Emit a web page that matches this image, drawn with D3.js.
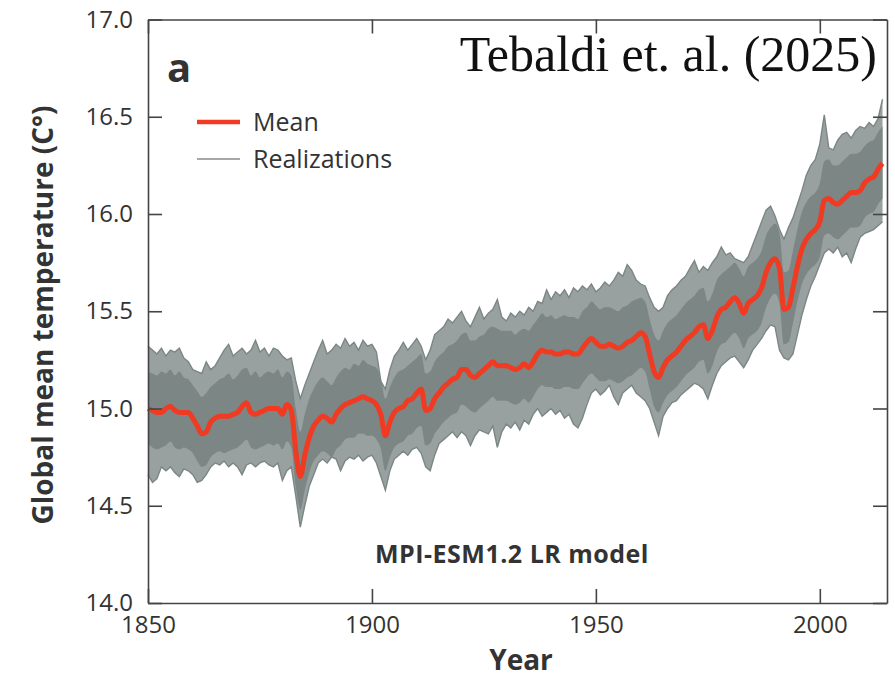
<!DOCTYPE html>
<html lang="en">
<head>
  <meta charset="UTF-8">
  <title>MPI-ESM1.2 LR global mean temperature</title>
  <script src="https://d3js.org/d3.v7.min.js"></script>
  <style>
    body { margin: 0; background: #fff; }
    svg text { font-family: "Open Sans", "Noto Sans", sans-serif; fill: #333; }
  </style>
</head>
<body>
<svg id="chart" width="895" height="679"></svg>

<script>
// years 1850..2014, one value per year
const firstYear = 1850;

// ensemble mean (red line)
const meanTemp = [
  15.00, 14.99, 14.98, 14.98, 15.00, 15.01, 14.99, 14.98, 14.98, 14.98,
  14.95, 14.91, 14.87, 14.88, 14.93, 14.95, 14.96, 14.96, 14.96, 14.97,
  14.98, 15.01, 15.03, 14.98, 14.97, 14.98, 14.99, 15.00, 15.00, 15.00,
  14.97, 15.02, 14.99, 14.78, 14.65, 14.76, 14.85, 14.91, 14.94, 14.96,
  14.95, 14.93, 14.97, 15.00, 15.02, 15.03, 15.04, 15.05, 15.06, 15.05,
  15.04, 15.02, 14.97, 14.86, 14.93, 14.98, 15.00, 15.01, 15.04, 15.05,
  15.08, 15.10, 14.99, 15.00, 15.05, 15.08, 15.11, 15.13, 15.15, 15.16,
  15.20, 15.20, 15.17, 15.16, 15.18, 15.20, 15.22, 15.24, 15.22, 15.22,
  15.22, 15.21, 15.20, 15.21, 15.23, 15.21, 15.24, 15.28, 15.30, 15.29,
  15.29, 15.28, 15.28, 15.29, 15.29, 15.28, 15.28, 15.31, 15.34, 15.36,
  15.34, 15.32, 15.32, 15.33, 15.32, 15.31, 15.32, 15.34, 15.35, 15.37,
  15.39, 15.37, 15.28, 15.19, 15.16, 15.21, 15.25, 15.27, 15.29, 15.32,
  15.35, 15.37, 15.39, 15.42, 15.43, 15.36, 15.40, 15.47, 15.51, 15.52,
  15.55, 15.57, 15.54, 15.49, 15.54, 15.56, 15.58, 15.62, 15.70, 15.75,
  15.77, 15.72, 15.51, 15.52, 15.62, 15.73, 15.82, 15.87, 15.90, 15.92,
  15.96, 16.07, 16.08, 16.06, 16.05, 16.07, 16.09, 16.11, 16.11, 16.12,
  16.16, 16.18, 16.19, 16.23, 16.26
];

// highest and lowest realization each year (outer edge of grey band)
const realMax = [
  15.32, 15.30, 15.28, 15.31, 15.27, 15.30, 15.29, 15.31, 15.26, 15.24,
  15.20, 15.19, 15.18, 15.24, 15.20, 15.22, 15.26, 15.30, 15.33, 15.27,
  15.29, 15.31, 15.28, 15.30, 15.35, 15.29, 15.31, 15.27, 15.31, 15.30,
  15.27, 15.25, 15.26, 15.14, 15.05, 15.12, 15.18, 15.24, 15.30, 15.35,
  15.28, 15.30, 15.33, 15.31, 15.36, 15.32, 15.34, 15.30, 15.35, 15.32,
  15.33, 15.29, 15.14, 15.10, 15.20, 15.27, 15.30, 15.34, 15.30, 15.33,
  15.36, 15.32, 15.25, 15.30, 15.38, 15.40, 15.42, 15.46, 15.44, 15.47,
  15.50, 15.45, 15.42, 15.47, 15.52, 15.46, 15.49, 15.51, 15.56, 15.47,
  15.45, 15.49, 15.47, 15.50, 15.48, 15.52, 15.50, 15.55, 15.54, 15.61,
  15.56, 15.60, 15.58, 15.61, 15.57, 15.62, 15.60, 15.63, 15.61, 15.64,
  15.60, 15.62, 15.65, 15.63, 15.66, 15.70, 15.68, 15.74, 15.71, 15.66,
  15.64, 15.63, 15.57, 15.52, 15.50, 15.52, 15.58, 15.61, 15.63, 15.66,
  15.68, 15.72, 15.76, 15.70, 15.73, 15.71, 15.75, 15.78, 15.83, 15.79,
  15.80, 15.77, 15.76, 15.75, 15.78, 15.84, 15.90, 15.96, 16.02, 16.04,
  15.99, 15.92, 15.87, 15.93, 15.98, 16.05, 16.12, 16.20, 16.25, 16.28,
  16.36, 16.51, 16.34, 16.33, 16.38, 16.41, 16.42, 16.39, 16.43, 16.45,
  16.44, 16.47, 16.45, 16.49, 16.59
];
const realMin = [
  14.66, 14.62, 14.64, 14.70, 14.68, 14.70, 14.67, 14.65, 14.69, 14.68,
  14.66, 14.62, 14.63, 14.66, 14.70, 14.72, 14.71, 14.73, 14.70, 14.72,
  14.70, 14.66, 14.71, 14.72, 14.70, 14.72, 14.73, 14.71, 14.70, 14.72,
  14.63, 14.68, 14.70, 14.55, 14.39, 14.50, 14.60, 14.66, 14.72, 14.74,
  14.72, 14.75, 14.74, 14.68, 14.73, 14.75, 14.74, 14.76, 14.73, 14.75,
  14.76, 14.72, 14.65, 14.58, 14.68, 14.74, 14.76, 14.78, 14.76, 14.79,
  14.80, 14.77, 14.70, 14.68, 14.76, 14.82, 14.84, 14.86, 14.88, 14.85,
  14.88, 14.86, 14.81, 14.86, 14.89, 14.88, 14.87, 14.91, 14.80, 14.88,
  14.92, 14.90, 14.93, 14.89, 14.94, 14.92, 14.97, 15.00, 14.96, 14.98,
  15.00, 14.97, 14.99, 14.95, 14.97, 14.92, 14.90, 14.95, 15.02, 15.08,
  15.10, 15.07, 15.09, 15.12, 15.06, 15.02, 15.08, 15.10, 15.12, 15.08,
  15.06, 15.04, 15.00, 14.93, 14.86, 14.96, 15.00, 15.03, 15.04, 15.07,
  15.09, 15.11, 15.13, 15.12, 15.10, 15.05, 15.12, 15.18, 15.22, 15.24,
  15.26, 15.27, 15.24, 15.21, 15.25, 15.30, 15.33, 15.36, 15.40, 15.43,
  15.42, 15.30, 15.26, 15.25, 15.28, 15.38, 15.48, 15.56, 15.63, 15.68,
  15.74, 15.80, 15.82, 15.80, 15.83, 15.78, 15.80, 15.75, 15.82, 15.88,
  15.90, 15.91, 15.92, 15.94, 15.96
];

// edges of the dense core where most realizations overlap
const coreHigh = [
  15.19, 15.18, 15.17, 15.19, 15.18, 15.20, 15.17, 15.19, 15.16, 15.15,
  15.12, 15.09, 15.06, 15.08, 15.11, 15.13, 15.15, 15.16, 15.18, 15.15,
  15.17, 15.20, 15.21, 15.17, 15.19, 15.16, 15.18, 15.19, 15.18, 15.20,
  15.16, 15.19, 15.17, 15.00, 14.88, 14.97, 15.05, 15.10, 15.14, 15.16,
  15.14, 15.12, 15.16, 15.19, 15.21, 15.20, 15.23, 15.22, 15.25, 15.23,
  15.22, 15.21, 15.15, 15.05, 15.11, 15.16, 15.19, 15.20, 15.22, 15.24,
  15.26, 15.28, 15.18, 15.19, 15.24, 15.27, 15.29, 15.32, 15.33, 15.35,
  15.38, 15.39, 15.35, 15.35, 15.37, 15.38, 15.41, 15.42, 15.41, 15.40,
  15.40, 15.40, 15.38, 15.40, 15.41, 15.40, 15.43, 15.46, 15.49, 15.47,
  15.48, 15.46, 15.47, 15.48, 15.47, 15.47, 15.46, 15.50, 15.52, 15.55,
  15.53, 15.51, 15.52, 15.52, 15.51, 15.50, 15.52, 15.53, 15.55, 15.56,
  15.57, 15.55, 15.46, 15.38, 15.35, 15.40, 15.44, 15.46, 15.48, 15.51,
  15.54, 15.56, 15.58, 15.61, 15.62, 15.55, 15.59, 15.66, 15.69, 15.71,
  15.73, 15.75, 15.72, 15.68, 15.73, 15.75, 15.77, 15.81, 15.89, 15.93,
  15.95, 15.90, 15.70, 15.71, 15.81, 15.92, 16.01, 16.06, 16.09, 16.11,
  16.16, 16.27, 16.28, 16.25, 16.25, 16.27, 16.29, 16.31, 16.31, 16.32,
  16.35, 16.37, 16.38, 16.42, 16.45
];
const coreLow = [
  14.82, 14.80, 14.79, 14.80, 14.81, 14.83, 14.80, 14.79, 14.80, 14.79,
  14.77, 14.73, 14.70, 14.71, 14.75, 14.77, 14.78, 14.77, 14.78, 14.79,
  14.80, 14.82, 14.84, 14.80, 14.79, 14.80, 14.81, 14.82, 14.81, 14.82,
  14.79, 14.83, 14.80, 14.60, 14.48, 14.58, 14.67, 14.73, 14.76, 14.78,
  14.77, 14.75, 14.79, 14.81, 14.84, 14.85, 14.85, 14.87, 14.87, 14.86,
  14.86, 14.84, 14.79, 14.68, 14.75, 14.80, 14.82, 14.83, 14.86, 14.87,
  14.90, 14.91, 14.81, 14.82, 14.87, 14.90, 14.93, 14.95, 14.97, 14.98,
  15.02, 15.01, 14.99, 14.98, 15.00, 15.02, 15.04, 15.06, 15.04, 15.04,
  15.04, 15.03, 15.02, 15.03, 15.05, 15.03, 15.06, 15.10, 15.12, 15.11,
  15.11, 15.10, 15.10, 15.11, 15.11, 15.10, 15.10, 15.13, 15.16, 15.18,
  15.16, 15.14, 15.14, 15.15, 15.14, 15.13, 15.14, 15.16, 15.17, 15.19,
  15.21, 15.19, 15.10, 15.01, 14.98, 15.03, 15.07, 15.09, 15.11, 15.14,
  15.17, 15.19, 15.21, 15.24, 15.25, 15.18, 15.22, 15.29, 15.33, 15.34,
  15.37, 15.39, 15.36, 15.31, 15.36, 15.38, 15.40, 15.44, 15.52, 15.57,
  15.59, 15.54, 15.33, 15.34, 15.44, 15.55, 15.64, 15.69, 15.72, 15.74,
  15.78, 15.89, 15.90, 15.88, 15.87, 15.89, 15.91, 15.93, 15.93, 15.94,
  15.98, 16.00, 16.01, 16.05, 16.08
];

const xTicks = [1850, 1900, 1950, 2000];
const yTicks = [14.0, 14.5, 15.0, 15.5, 16.0, 16.5, 17.0];

const rows = meanTemp.map((m, i) => ({
  year: firstYear + i, mean: m,
  max: realMax[i], min: realMin[i], hi: coreHigh[i], lo: coreLow[i]
}));

const svg = d3.select("#chart");
const plotLeft = 148, plotRight = 887, plotTop = 19.5, plotBottom = 603;

const x = d3.scaleLinear().domain([1850, 2015]).range([plotLeft, plotRight]);
const y = d3.scaleLinear().domain([14, 17]).range([plotBottom, plotTop]);

const bandColor = "#7b8685";

// outer band (sparser strands near the edges)
svg.append("path")
  .datum(rows)
  .attr("fill", bandColor)
  .attr("fill-opacity", 0.78)
  .attr("d", d3.area().x(d => x(d.year)).y0(d => y(d.min)).y1(d => y(d.max)));

// dense core
svg.append("path")
  .datum(rows)
  .attr("fill", bandColor)
  .attr("d", d3.area().curve(d3.curveMonotoneX).x(d => x(d.year)).y0(d => y(d.lo)).y1(d => y(d.hi)));

// single-line edges
["max", "min"].forEach(k => {
  svg.append("path")
    .datum(rows)
    .attr("fill", "none")
    .attr("stroke", bandColor)
    .attr("stroke-width", 1.4)
    .attr("d", d3.line().x(d => x(d.year)).y(d => y(d[k])));
});

// mean
svg.append("path")
  .datum(rows)
  .attr("fill", "none")
  .attr("stroke", "#f03a22")
  .attr("stroke-width", 5)
  .attr("stroke-linejoin", "round")
  .attr("d", d3.line().curve(d3.curveMonotoneX).x(d => x(d.year)).y(d => y(d.mean)));

// axes, ticks pointing inward on all four sides
const axisColor = "#444";
function styleAxis(g) {
  g.select(".domain").attr("stroke", axisColor).attr("stroke-width", 1.6).attr("fill", "none");
  g.selectAll(".tick line").attr("stroke", axisColor).attr("stroke-width", 1.6);
  g.selectAll(".tick text").attr("fill", "#333").style("font-size", "24px")
    .style("font-family", '"Open Sans", sans-serif');
}

svg.append("g")
  .attr("transform", `translate(0,${plotBottom})`)
  .call(d3.axisBottom(x).tickValues(xTicks).tickFormat(d3.format("d")).tickSizeInner(-14).tickSizeOuter(0).tickPadding(13))
  .call(styleAxis);

svg.append("g")
  .attr("transform", `translate(0,${plotTop})`)
  .call(d3.axisTop(x).tickValues(xTicks).tickFormat("").tickSizeInner(-14).tickSizeOuter(0))
  .call(styleAxis);

svg.append("g")
  .attr("transform", `translate(${plotLeft},0)`)
  .call(d3.axisLeft(y).tickValues(yTicks).tickFormat(d3.format(".1f")).tickSizeInner(-14).tickSizeOuter(0).tickPadding(15))
  .call(styleAxis);

svg.append("g")
  .attr("transform", `translate(${plotRight},0)`)
  .call(d3.axisRight(y).tickValues(yTicks).tickFormat("").tickSizeInner(-14).tickSizeOuter(0))
  .call(styleAxis);

// titles
svg.append("text")
  .attr("x", 521).attr("y", 670)
  .attr("text-anchor", "middle")
  .style("font-size", "28px").style("font-weight", "bold")
  .text("Year");

svg.append("text")
  .attr("transform", "translate(53,315) rotate(-90)")
  .attr("text-anchor", "middle")
  .style("font-size", "28px").style("font-weight", "bold")
  .text("Global mean temperature (C°)");

svg.append("text")
  .attr("x", 167).attr("y", 82)
  .style("font-size", "40px").style("font-weight", "bold")
  .text("a");

svg.append("text")
  .attr("x", 512).attr("y", 563)
  .attr("text-anchor", "middle")
  .style("font-size", "25px").style("font-weight", "bold")
  .style("letter-spacing", "0.5px")
  .text("MPI-ESM1.2 LR model");

svg.append("text")
  .attr("x", 877).attr("y", 71)
  .attr("text-anchor", "end")
  .style("font-family", '"Liberation Serif", "DejaVu Serif", serif')
  .style("font-size", "50px")
  .style("fill", "#111")
  .text("Tebaldi et. al. (2025)");

// legend
const legend = [
  { label: "Mean", color: "#f03a22", width: 4.5, y: 122 },
  { label: "Realizations", color: "#a8a8a8", width: 2, y: 159 }
];
legend.forEach(l => {
  svg.append("line")
    .attr("x1", 197).attr("x2", 240).attr("y1", l.y).attr("y2", l.y)
    .attr("stroke", l.color).attr("stroke-width", l.width);
  svg.append("text")
    .attr("x", 253).attr("y", l.y + 9)
    .style("font-size", "25px")
    .text(l.label);
});
</script>
</body>
</html>
